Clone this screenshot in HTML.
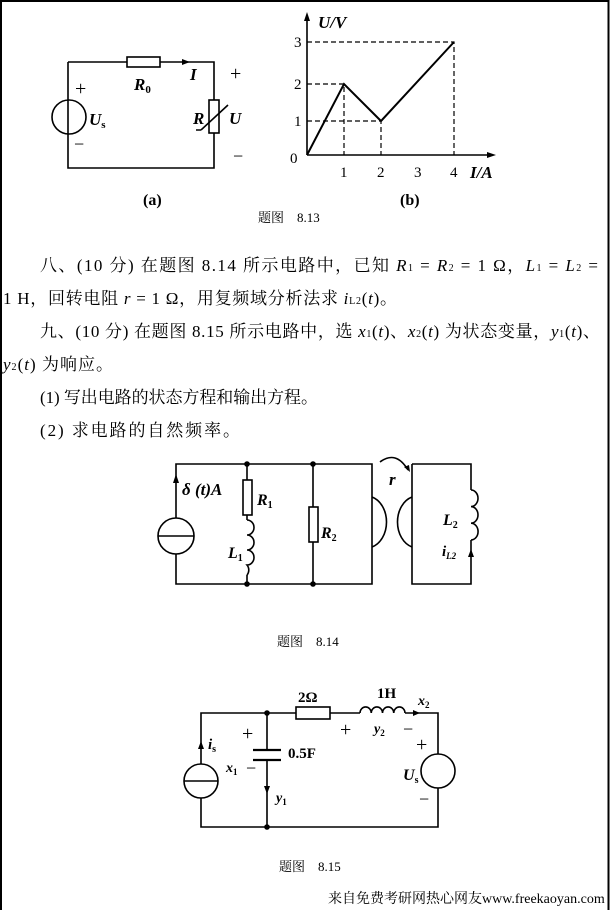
<!DOCTYPE html>
<html><head><meta charset="utf-8"><style>
html,body{margin:0;padding:0;background:#fff}
svg{display:block}
.t{font-family:"Liberation Serif","Noto Serif CJK SC",serif;fill:#000}
.c{font-family:"Liberation Serif","Noto Serif CJK SC",serif;fill:#000;font-size:17px}
.i{font-family:"Liberation Serif",serif;font-style:italic;font-weight:bold;fill:#000}
</style></head><body>
<svg width="611" height="910" viewBox="0 0 611 910" xmlns="http://www.w3.org/2000/svg">
<rect x="0" y="0" width="611" height="910" fill="#fff"/>
<path d="M1 910V1H608.5V910" fill="none" stroke="#000" stroke-width="2"/>
<g fill="none" stroke="#000" stroke-width="1.6">
<path d="M68 62H127M160 62H214V100M214 133V168H68V62"/>
<rect x="127" y="57" width="33" height="10"/>
<rect x="209" y="100" width="10" height="33"/>
<circle cx="69" cy="117" r="17"/>
<path d="M201 130L228 105M201 130H196"/>
<path d="M307 155V16M307 155H492"/>
<path d="M307 155L344 84L381 121L454 42" stroke-width="2"/>
<path d="M307 42H454V155M307 84H344V155M307 121H381V155" stroke-dasharray="5,3" stroke-width="1.2"/>
<path d="M176 518V464H372V584H176V554M247 464V480M247 515V520M247 575V584M313 464V507M313 542V584"/>
<rect x="243" y="480" width="9" height="35"/>
<rect x="309" y="507" width="9" height="35"/>
<circle cx="176" cy="536" r="18"/>
<path d="M158 536H194"/>
<path d="M247 520a7 7.5 0 0 1 0 15a7 7.5 0 0 1 0 15a7 7.5 0 0 1 0 15a7 7.5 0 0 1 0 10"/>
<path d="M372 497a20 26 0 0 1 0 50"/>
<path d="M412 497a20 26 0 0 0 0 50"/>
<path d="M412 464H471V490M471 540V584H412V464"/>
<path d="M471 490a7 8.3 0 0 1 0 16.6a7 8.3 0 0 1 0 16.6a7 8.3 0 0 1 0 16.8"/>
<path d="M380 462Q396 450 408 470"/>
<path d="M201 764V713H296M330 713H360M405 713H438V754M438 788V827H201V798M267 713V750M267 760V827"/>
<rect x="296" y="707" width="34" height="12"/>
<path d="M253 750H281M253 760H281" stroke-width="2.2"/>
<circle cx="201" cy="781" r="17"/>
<path d="M184 781H218"/>
<circle cx="438" cy="771" r="17"/>
<path d="M360 713a5.6 6 0 0 1 11.25 0a5.6 6 0 0 1 11.25 0a5.6 6 0 0 1 11.25 0a5.6 6 0 0 1 11.25 0"/>
</g>
<g fill="#000">
<path d="M190 62l-8-3v6z"/>
<path d="M307 12l-3 9h6z"/>
<path d="M496 155l-9-3v6z"/>
<path d="M176 474l-3 9h6z"/>
<path d="M471 549l-3 8h6z"/>
<path d="M410 472l-6-5 5-2z"/>
<path d="M201 741l-3 8h6z"/>
<path d="M267 794l-3-8h6z"/>
<path d="M420 713l-7-3v6z"/>
<circle cx="247" cy="464" r="2.8"/><circle cx="313" cy="464" r="2.8"/>
<circle cx="247" cy="584" r="2.8"/><circle cx="313" cy="584" r="2.8"/>
<circle cx="267" cy="713" r="2.8"/><circle cx="267" cy="827" r="2.8"/>
</g>
<text class="t" x="75" y="95" font-size="20">+</text>
<text class="i" x="89" y="125" font-size="17">U<tspan font-size="11" font-style="normal" dy="3">s</tspan></text>
<text class="t" x="74" y="150" font-size="18">−</text>
<text class="i" x="134" y="90" font-size="17">R<tspan font-size="11" font-style="normal" dy="3">0</tspan></text>
<text class="i" x="190" y="80" font-size="17">I</text>
<text class="t" x="230" y="80" font-size="20">+</text>
<text class="i" x="193" y="124" font-size="17">R</text>
<text class="i" x="229" y="124" font-size="17">U</text>
<text class="t" x="233" y="162" font-size="18">−</text>
<text class="t" x="143" y="205" font-size="16" font-weight="bold">(a)</text>
<text class="i" x="318" y="28" font-size="17">U/V</text>
<text class="t" x="294" y="47" font-size="15">3</text>
<text class="t" x="294" y="89" font-size="15">2</text>
<text class="t" x="294" y="126" font-size="15">1</text>
<text class="t" x="290" y="163" font-size="15">0</text>
<text class="t" x="340" y="177" font-size="15">1</text>
<text class="t" x="377" y="177" font-size="15">2</text>
<text class="t" x="414" y="177" font-size="15">3</text>
<text class="t" x="450" y="177" font-size="15">4</text>
<text class="i" x="470" y="178" font-size="17">I/A</text>
<text class="t" x="400" y="205" font-size="16" font-weight="bold">(b)</text>
<text class="t" x="258" y="222" font-size="13">题图　8.13</text>
<text class="c" x="40" y="271" textLength="558" lengthAdjust="spacing">八、(10 分) 在题图 8.14 所示电路中，已知 <tspan font-style="italic">R</tspan><tspan font-size="10">1</tspan> = <tspan font-style="italic">R</tspan><tspan font-size="10">2</tspan> = 1 Ω，<tspan font-style="italic">L</tspan><tspan font-size="10">1</tspan> = <tspan font-style="italic">L</tspan><tspan font-size="10">2</tspan> =</text>
<text class="c" x="3" y="304" textLength="394" lengthAdjust="spacing">1 H，回转电阻 <tspan font-style="italic">r</tspan> = 1 Ω，用复频域分析法求 <tspan font-style="italic">i</tspan><tspan font-size="10">L2</tspan>(<tspan font-style="italic">t</tspan>)。</text>
<text class="c" x="40" y="337" textLength="560" lengthAdjust="spacing">九、(10 分) 在题图 8.15 所示电路中，选 <tspan font-style="italic">x</tspan><tspan font-size="10">1</tspan>(<tspan font-style="italic">t</tspan>)、<tspan font-style="italic">x</tspan><tspan font-size="10">2</tspan>(<tspan font-style="italic">t</tspan>) 为状态变量，<tspan font-style="italic">y</tspan><tspan font-size="10">1</tspan>(<tspan font-style="italic">t</tspan>)、</text>
<text class="c" x="3" y="370" textLength="110" lengthAdjust="spacing"><tspan font-style="italic">y</tspan><tspan font-size="10">2</tspan>(<tspan font-style="italic">t</tspan>) 为响应。</text>
<text class="c" x="40" y="403" textLength="278" lengthAdjust="spacing">(1) 写出电路的状态方程和输出方程。</text>
<text class="c" x="40" y="436" textLength="200" lengthAdjust="spacing">(2) 求电路的自然频率。</text>
<text class="i" x="182" y="495" font-size="17">δ (<tspan>t</tspan>)A</text>
<text class="i" x="257" y="505" font-size="16">R<tspan font-size="10" font-style="normal" dy="3">1</tspan></text>
<text class="i" x="321" y="538" font-size="16">R<tspan font-size="10" font-style="normal" dy="3">2</tspan></text>
<text class="i" x="228" y="558" font-size="16">L<tspan font-size="10" font-style="normal" dy="3">1</tspan></text>
<text class="i" x="389" y="485" font-size="17">r</text>
<text class="i" x="443" y="525" font-size="16">L<tspan font-size="10" font-style="normal" dy="3">2</tspan></text>
<text class="i" x="442" y="556" font-size="15">i<tspan font-size="9" dy="3">L2</tspan></text>
<text class="t" x="277" y="646" font-size="13">题图　8.14</text>
<text class="t" x="298" y="702" font-size="15" font-weight="bold">2Ω</text>
<text class="t" x="377" y="698" font-size="15" font-weight="bold">1H</text>
<text class="i" x="418" y="705" font-size="14">x<tspan font-size="9" font-style="normal" dy="3">2</tspan></text>
<text class="t" x="340" y="736" font-size="20">+</text>
<text class="i" x="374" y="733" font-size="14">y<tspan font-size="9" font-style="normal" dy="3">2</tspan></text>
<text class="t" x="403" y="735" font-size="18">−</text>
<text class="t" x="416" y="751" font-size="20">+</text>
<text class="i" x="403" y="780" font-size="16">U<tspan font-size="10" font-style="normal" dy="3">s</tspan></text>
<text class="t" x="419" y="805" font-size="18">−</text>
<text class="i" x="208" y="749" font-size="15">i<tspan font-size="10" font-style="normal" dy="3">s</tspan></text>
<text class="t" x="242" y="740" font-size="20">+</text>
<text class="i" x="226" y="772" font-size="14">x<tspan font-size="9" font-style="normal" dy="3">1</tspan></text>
<text class="t" x="246" y="774" font-size="18">−</text>
<text class="t" x="288" y="758" font-size="15" font-weight="bold">0.5F</text>
<text class="i" x="276" y="802" font-size="14">y<tspan font-size="9" font-style="normal" dy="3">1</tspan></text>
<text class="t" x="279" y="871" font-size="13">题图　8.15</text>
<text class="t" x="328" y="903" font-size="14" fill="#333">来自免费考研网热心网友www.freekaoyan.com</text>
</svg>
</body></html>
